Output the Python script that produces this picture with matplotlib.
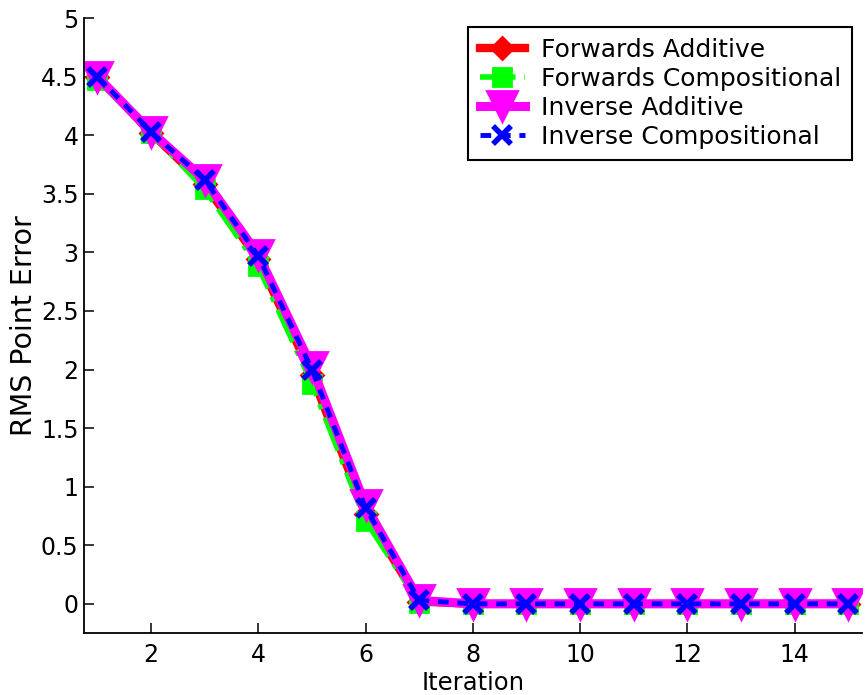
import matplotlib
matplotlib.use("Agg")
import matplotlib.pyplot as plt

plt.rcParams['font.family'] = ['DejaVu Sans']

iterations = list(range(1, 16))
forwards_additive = [4.50, 4.02, 3.58, 2.94, 1.95, 0.77, 0.02, 0, 0, 0, 0, 0, 0, 0, 0]
forwards_compositional = [4.47, 4.02, 3.54, 2.88, 1.88, 0.71, 0.01, 0, 0, 0, 0, 0, 0, 0, 0]
inverse_additive = [4.50, 4.03, 3.62, 2.98, 2.02, 0.84, 0.03, 0, 0, 0, 0, 0, 0, 0, 0]
inverse_compositional = [4.50, 4.03, 3.62, 2.97, 2.00, 0.82, 0.03, 0, 0, 0, 0, 0, 0, 0, 0]

x_ticks = [2, 4, 6, 8, 10, 12, 14]
y_ticks = [0, 0.5, 1, 1.5, 2, 2.5, 3, 3.5, 4, 4.5, 5]
y_tick_labels = ['0', '0.5', '1', '1.5', '2', '2.5', '3', '3.5', '4', '4.5', '5']

fig = plt.figure(figsize=(8.66, 6.95), dpi=100)
ax = fig.add_axes([0.097, 0.089, 0.898, 0.885])

ax.plot(iterations, forwards_additive, color='#ff0000', linestyle='-', linewidth=6,
        marker='D', markersize=11, markeredgewidth=2, label='Forwards Additive')
ax.plot(iterations, forwards_compositional, color='#00ff00', linestyle='-.', linewidth=4,
        marker='s', markersize=13, markeredgewidth=2, label='Forwards Compositional')
ax.plot(iterations, inverse_additive, color='#ff00ff', linestyle='-', linewidth=6.5,
        marker='v', markersize=22, markeredgewidth=2, label='Inverse Additive')
ax.plot(iterations, inverse_compositional, color='#0000ff', linestyle=(0, (2.2, 1.8)), linewidth=3.5,
        marker='x', markersize=13, markeredgewidth=4, label='Inverse Compositional')

ax.set_xlim(0.75, 15.25)
ax.set_ylim(-0.25, 5)
ax.set_xticks(x_ticks)
ax.set_xticklabels([str(t) for t in x_ticks])
ax.set_yticks(y_ticks)
ax.set_yticklabels(y_tick_labels)

for side in ('top', 'right'):
    ax.spines[side].set_visible(False)
for side in ('left', 'bottom'):
    ax.spines[side].set_linewidth(1.3)

ax.tick_params(direction='in', length=7, width=1.1, labelsize=17)
ax.tick_params(axis='x', pad=7)
ax.tick_params(axis='y', pad=4)
ax.set_xlabel('Iteration', fontsize=17.5, labelpad=3)
ax.set_ylabel('RMS Point Error', fontsize=20.5, labelpad=2)

leg = ax.legend(loc='upper right', bbox_to_anchor=(0.988, 0.986), fontsize=18,
                frameon=True, fancybox=False, edgecolor='black', framealpha=1,
                handlelength=1.8, handletextpad=0.65, labelspacing=0.2,
                borderpad=0.45, borderaxespad=0)
leg.get_frame().set_linewidth(1.5)

fig.savefig('out.png', dpi=100)
